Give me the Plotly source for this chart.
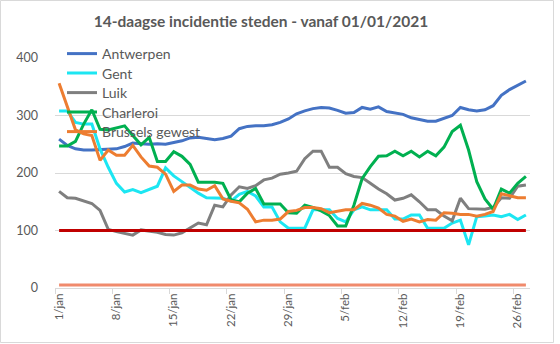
import pandas as pd
import plotly.graph_objects as go

# Daily dates, 1 Jan .. 27 Feb 2021
dates = pd.date_range("2021-01-01", periods=58, freq="D")

antwerpen = [259, 248, 242, 240, 240, 241, 241, 242, 246, 252, 251, 250, 251, 250, 253, 256,
             261, 262, 260, 258, 260, 264, 277, 281, 282, 282, 284, 288, 294, 303, 308, 312,
             314, 313, 309, 304, 305, 314, 311, 315, 307, 304, 302, 296, 293, 290, 290, 295,
             300, 314, 310, 308, 310, 317, 335, 345, 352, 360]
gent = [308, 308, 288, 285, 285, 242, 210, 182, 167, 171, 166, 171, 177, 209, 195, 185,
        175, 165, 157, 156, 156, 151, 163, 168, 160, 141, 141, 115, 104, 104, 104, 136,
        136, 136, 121, 115, 136, 141, 136, 136, 136, 120, 120, 127, 127, 104, 104, 104,
        113, 118, 75, 124, 125, 127, 124, 128, 119, 127]
luik = [168, 157, 156, 152, 147, 135, 102, 98, 95, 92, 101, 99, 97, 93, 92, 96,
        104, 113, 110, 144, 141, 162, 176, 173, 178, 188, 191, 198, 200, 203, 225, 238,
        238, 210, 210, 199, 194, 192, 182, 172, 164, 153, 156, 162, 150, 136, 136, 125,
        117, 156, 138, 138, 137, 140, 157, 156, 177, 179]
charleroi = [247, 247, 255, 285, 310, 276, 275, 278, 282, 265, 249, 262, 220, 220, 237, 229,
             215, 184, 184, 184, 182, 153, 150, 165, 173, 146, 146, 146, 131, 130, 144, 140,
             134, 126, 108, 108, 144, 190, 211, 229, 230, 238, 230, 238, 228, 238, 230, 245,
             272, 283, 240, 185, 155, 137, 172, 165, 182, 194]
brussel = [356, 315, 275, 268, 265, 222, 240, 231, 231, 248, 228, 212, 210, 198, 168, 179,
           179, 172, 170, 178, 155, 151, 148, 137, 115, 118, 118, 120, 133, 135, 140, 140,
           138, 131, 133, 136, 136, 147, 144, 139, 128, 125, 116, 120, 115, 119, 118, 131,
           130, 128, 128, 125, 128, 133, 164, 161, 157, 157]

alarm_level = 100   # red reference line
base_level = 5      # light orange reference line

tick_dates = pd.date_range("2021-01-01", periods=9, freq="7D")
tick_labels = ["1/jan", "8/jan", "15/jan", "22/jan", "29/jan",
               "5/feb", "12/feb", "19/feb", "26/feb"]

series = [
    ("Antwerpen", antwerpen, "#4472C4"),
    ("Gent", gent, "#1CE6F2"),
    ("Luik", luik, "#7F7F7F"),
    ("Charleroi", charleroi, "#00B050"),
    ("Brussels gewest", brussel, "#ED7D31"),
]

FONT = "Lato"
TXT = "#595959"

# plot area in pixels: x 55..530, y 58..288
L, R, T, B = 55, 30, 58, 56
PW, PH = 560 - L - R, 344 - T - B


def px(x):
    return (x - L) / PW


def py(y):
    return (344 - B - y) / PH


# one single-entry legend per series so the rows sit at a tight pitch
legend_rows = [54, 73.5, 93, 112.5, 132]
legend_ids = ["legend", "legend2", "legend3", "legend4", "legend5"]

fig = go.Figure()
for (name, vals, col), lid in zip(series, legend_ids):
    fig.add_trace(go.Scatter(x=dates, y=vals, mode="lines", name=name, legend=lid,
                             line=dict(color=col, width=3)))

fig.add_trace(go.Scatter(x=dates, y=[base_level] * len(dates), mode="lines",
                         showlegend=False, line=dict(color="#F08A6C", width=3)))
fig.add_trace(go.Scatter(x=dates, y=[alarm_level] * len(dates), mode="lines",
                         showlegend=False, line=dict(color="#C00000", width=3)))

fig.add_shape(type="rect", xref="paper", yref="paper",
              x0=px(0.5), x1=px(553.5), y0=py(342.5), y1=py(0.5),
              line=dict(color="#D9D9D9", width=1), layer="below")

legend_layout = {}
for lid, row in zip(legend_ids, legend_rows):
    legend_layout[lid] = dict(x=px(62), y=py(row), xanchor="left", yanchor="middle",
                              bgcolor="rgba(0,0,0,0)", borderwidth=0,
                              font=dict(family=FONT, size=14, color=TXT),
                              itemwidth=30)

fig.update_layout(
    width=560, height=344,
    margin=dict(l=L, r=R, t=T, b=B, autoexpand=False),
    paper_bgcolor="white", plot_bgcolor="white",
    font=dict(family=FONT, color=TXT),
    title=dict(text="<b>14-daagse incidentie steden - vanaf 01/01/2021</b>",
               font=dict(family=FONT, size=15.5, color=TXT),
               x=261 / 560, xref="container", xanchor="center",
               y=1 - 22 / 344, yref="container", yanchor="middle"),
    showlegend=True,
    **legend_layout,
)

fig.update_xaxes(
    type="date",
    range=["2020-12-31 12:00", "2021-02-27 12:00"],
    tickmode="array", tickvals=tick_dates, ticktext=tick_labels,
    tickangle=-90, ticks="", tickfont=dict(family=FONT, size=11.5, color=TXT),
    showgrid=False, zeroline=False,
    showline=True, linecolor="#D9D9D9", linewidth=1,
    minor=dict(tick0="2020-12-31 12:00", dtick=7 * 86400000, ticks="outside",
               ticklen=5, tickcolor="#D9D9D9", tickwidth=1, showgrid=False),
)
fig.update_yaxes(
    range=[0, 400], tickvals=[0, 100, 200, 300, 400],
    showgrid=True, gridcolor="#D9D9D9", gridwidth=1,
    zeroline=False, showline=False, ticks="",
    tickfont=dict(family=FONT, size=12.5, color=TXT), ticklabelstandoff=16,
)

fig.write_html("out.html")
